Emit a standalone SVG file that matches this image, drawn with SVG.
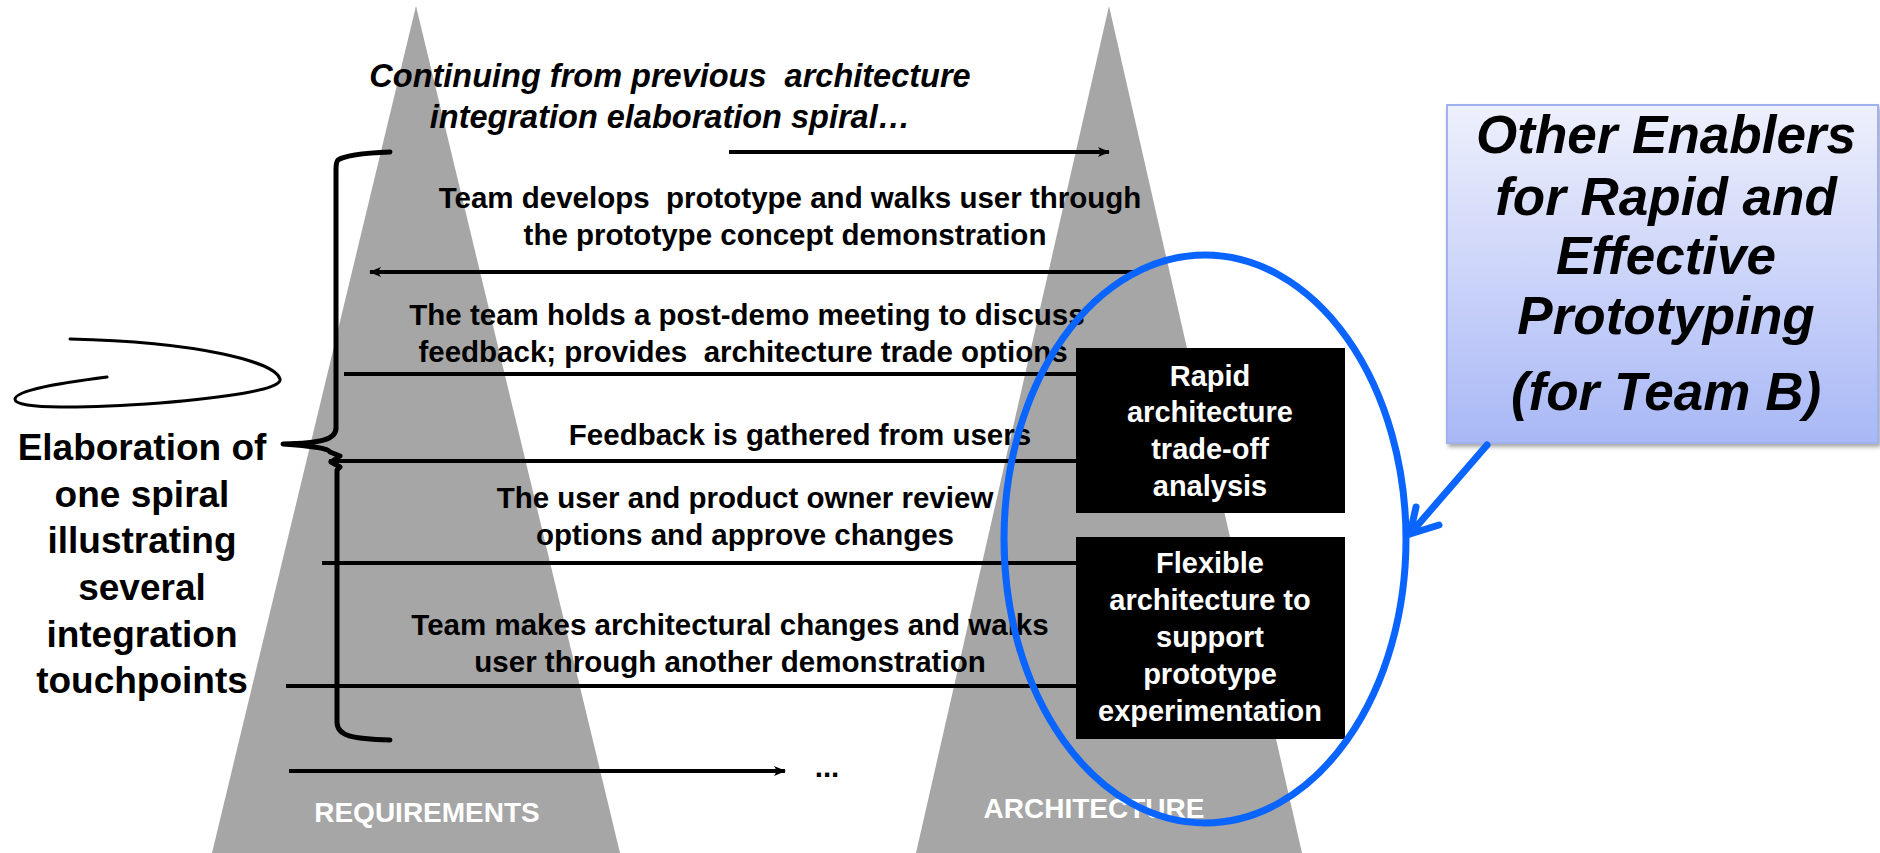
<svg xmlns="http://www.w3.org/2000/svg" width="1880" height="853" viewBox="0 0 1880 853" xml:space="preserve">
  <defs>
    <linearGradient id="calloutFill" x1="0" y1="0" x2="0" y2="1">
      <stop offset="0" stop-color="#eef0fc"/>
      <stop offset="1" stop-color="#a9b8f6"/>
    </linearGradient>
    <filter id="softShadow" x="-5%" y="-5%" width="115%" height="115%">
      <feGaussianBlur in="SourceAlpha" stdDeviation="2"/>
      <feOffset dx="2" dy="3"/>
      <feComponentTransfer><feFuncA type="linear" slope="0.35"/></feComponentTransfer>
      <feMerge><feMergeNode/><feMergeNode in="SourceGraphic"/></feMerge>
    </filter>
    <marker id="headFill" viewBox="0 0 12 10" refX="11" refY="5" markerWidth="12" markerHeight="10" markerUnits="userSpaceOnUse" orient="auto">
      <path d="M0,0 L12,5 L0,10 L3,5 Z" fill="#000"/>
    </marker>
    <marker id="headOpen" viewBox="0 0 20 20" refX="1" refY="10" markerWidth="20" markerHeight="20" markerUnits="userSpaceOnUse" orient="auto-start-reverse">
      <path d="M17,2 L2,10 L17,18" fill="none" stroke="#000" stroke-width="3.5" stroke-linecap="round" stroke-linejoin="round"/>
    </marker>
  </defs>
  <style>
    text { white-space: pre; }
    .cone { fill: #a6a6a6; }
    .step { font-family: "Liberation Sans", Arial, sans-serif; font-weight: bold; font-size: 29.5px; fill: #000; text-anchor: middle; }
    .lead { font-family: "Liberation Sans", Arial, sans-serif; font-weight: bold; font-style: italic; font-size: 32.5px; fill: #000; text-anchor: middle; }
    .side { font-family: "Liberation Sans", Arial, sans-serif; font-weight: bold; font-size: 37px; fill: #000; text-anchor: middle; }
    .cone-label { font-family: "Liberation Sans", Arial, sans-serif; font-weight: bold; font-size: 28px; fill: #fff; text-anchor: middle; }
    .box { fill: #000; }
    .box-text { font-family: "Liberation Sans", Arial, sans-serif; font-weight: bold; font-size: 29px; fill: #fff; text-anchor: middle; }
    .callout-text { font-family: "Liberation Sans", Arial, sans-serif; font-weight: bold; font-style: italic; font-size: 53px; fill: #000; text-anchor: middle; }
    .flow { stroke: #000; stroke-width: 4; fill: none; }
    .brace { stroke: #000; stroke-width: 5; fill: none; stroke-linecap: round; stroke-linejoin: round; }
    .blue { stroke: #0a64ff; fill: none; }
  </style>

  <!-- the two cones -->
  <g id="requirements-cone">
    <polygon class="cone" points="416,6 620,853 212,853"/>
    <text class="cone-label" x="427" y="822">REQUIREMENTS</text>
  </g>
  <g id="architecture-cone">
    <polygon class="cone" points="1109,6 1302,853 916,853"/>
    <text class="cone-label" x="1094" y="818">ARCHITECTURE</text>
  </g>

  <!-- step labels -->
  <g id="lead-in">
    <text class="lead" x="670" y="87">Continuing from previous  architecture</text>
    <text class="lead" x="670" y="128">integration elaboration spiral…</text>
  </g>
  <g id="step-demo">
    <text class="step" x="790" y="208">Team develops  prototype and walks user through</text>
    <text class="step" x="785" y="245">the prototype concept demonstration</text>
  </g>
  <g id="step-meeting">
    <text class="step" x="747" y="325">The team holds a post-demo meeting to discuss</text>
    <text class="step" x="743" y="362">feedback; provides  architecture trade options</text>
  </g>
  <g id="step-feedback">
    <text class="step" x="800" y="445">Feedback is gathered from users</text>
  </g>
  <g id="step-review">
    <text class="step" x="745" y="508">The user and product owner review</text>
    <text class="step" x="745" y="545">options and approve changes</text>
  </g>
  <g id="step-changes">
    <text class="step" x="730" y="635">Team makes architectural changes and walks</text>
    <text class="step" x="730" y="672">user through another demonstration</text>
  </g>

  <!-- connectors between the cones -->
  <g id="connectors">
    <line class="flow" x1="729" y1="152" x2="1109" y2="152" marker-end="url(#headFill)"/>
    <line class="flow" x1="1140" y1="272" x2="370" y2="272" marker-end="url(#headFill)"/>
    <line class="flow" x1="344" y1="374" x2="1080" y2="374"/>
    <line class="flow" x1="1080" y1="461" x2="329" y2="461" marker-end="url(#headFill)"/>
    <line class="flow" x1="322" y1="563" x2="1080" y2="563"/>
    <line class="flow" x1="1080" y1="686" x2="286" y2="686" marker-start="url(#headOpen)"/>
    <line class="flow" x1="289" y1="771" x2="785" y2="771" marker-end="url(#headFill)"/>
    <text class="step" x="827" y="777">...</text>
  </g>

  <!-- curly brace spanning the spiral -->
  <g id="spiral-brace">
    <path class="brace" d="M390,152 C365,153 345,155 338,160 C336,162 336,165 336,170 L336,428 C336,440 320,443 283,444 C310,446 328,448 330,452 L340,456 L331,462 L340,467 L337,470 L337,722 C337,736 352,739 390,740"/>
  </g>

  <!-- label on the left with its hand-drawn loop -->
  <g id="spiral-label">
    <path d="M107,377 C60,383 16,390 15,399 C14,410 90,408 160,403 C220,398 283,390 280,379 C275,362 200,342 70,339" fill="none" stroke="#000" stroke-width="3" stroke-linecap="round"/>
    <text class="side" x="142" y="460">Elaboration of</text>
    <text class="side" x="142" y="507">one spiral</text>
    <text class="side" x="142" y="553">illustrating</text>
    <text class="side" x="142" y="600">several</text>
    <text class="side" x="142" y="647">integration</text>
    <text class="side" x="142" y="693">touchpoints</text>
  </g>

  <!-- enabler boxes -->
  <g id="enabler-tradeoff">
    <rect class="box" x="1076" y="348" width="269" height="165"/>
    <text class="box-text" x="1210" y="386">Rapid</text>
    <text class="box-text" x="1210" y="422">architecture</text>
    <text class="box-text" x="1210" y="459">trade-off</text>
    <text class="box-text" x="1210" y="496">analysis</text>
  </g>
  <g id="enabler-flexible">
    <rect class="box" x="1076" y="537" width="269" height="202"/>
    <text class="box-text" x="1210" y="573">Flexible</text>
    <text class="box-text" x="1210" y="610">architecture to</text>
    <text class="box-text" x="1210" y="647">support</text>
    <text class="box-text" x="1210" y="684">prototype</text>
    <text class="box-text" x="1210" y="721">experimentation</text>
  </g>

  <!-- highlight ring -->
  <g id="highlight-ring">
    <ellipse class="blue" cx="1205" cy="539" rx="201" ry="284" stroke-width="7"/>
  </g>

  <!-- callout -->
  <g id="callout">
    <rect x="1447" y="105" width="431" height="338" fill="url(#calloutFill)" stroke="#9fb2ee" stroke-width="2" filter="url(#softShadow)"/>
    <text class="callout-text" x="1666" y="153">Other Enablers</text>
    <text class="callout-text" x="1666" y="215">for Rapid and</text>
    <text class="callout-text" x="1666" y="274">Effective</text>
    <text class="callout-text" x="1666" y="334">Prototyping</text>
    <text class="callout-text" x="1666" y="410">(for Team B)</text>
  </g>
  <g id="callout-pointer">
    <path class="blue" d="M1487,445 L1410,534 M1416,507 L1410,534 L1439,525" stroke-width="7" stroke-linecap="round" stroke-linejoin="round"/>
  </g>
</svg>
